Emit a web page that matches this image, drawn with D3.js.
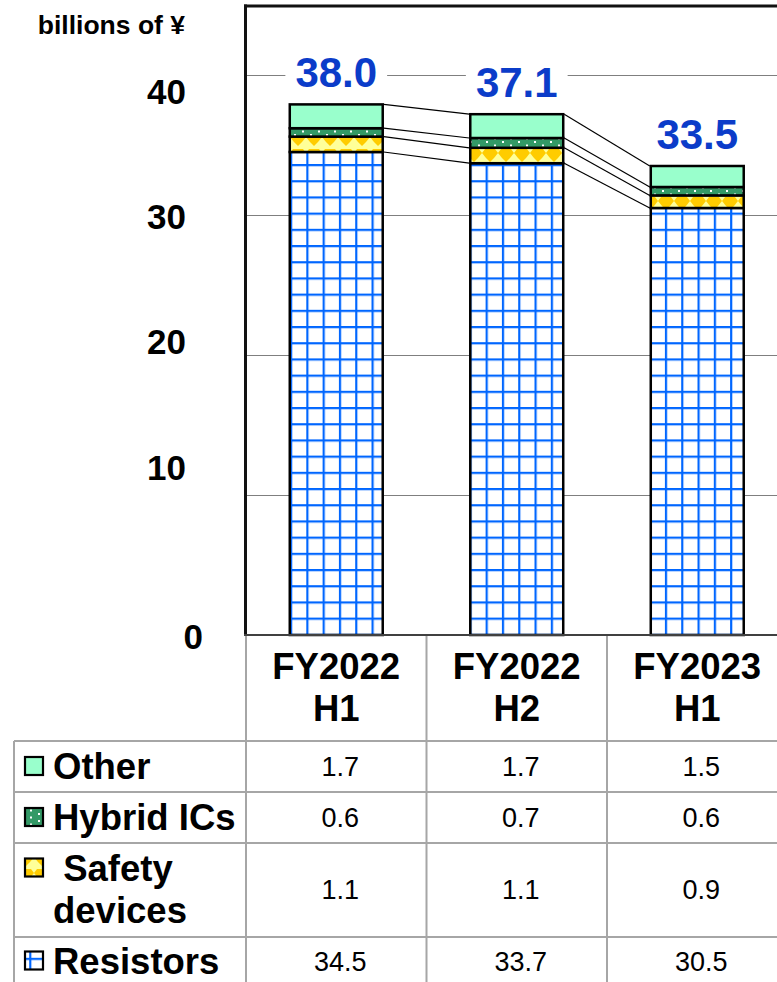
<!DOCTYPE html>
<html>
<head>
<meta charset="utf-8">
<script src="https://cdn.jsdelivr.net/npm/d3@7"></script>
<style>
  html, body { margin: 0; padding: 0; background: #fff; }
  svg { display: block; font-family: "Liberation Sans", Arial, sans-serif; }
</style>
</head>
<body>
<svg id="chart" width="777" height="982"></svg>
<script>
// ---------------- data ----------------
const categories = ["FY2022 H1", "FY2022 H2", "FY2023 H1"];
const seriesNames = ["Resistors", "Safety devices", "Hybrid ICs", "Other"];
const resistors = [34.5, 33.7, 30.5];
const safetyDevices = [1.1, 1.1, 0.9];
const hybridICs = [0.6, 0.7, 0.6];
const other = [1.7, 1.7, 1.5];
const totalLabels = ["38.0", "37.1", "33.5"];
const yTicks = [0, 10, 20, 30, 40];
const unitLabel = "billions of ¥";

// table rows, top to bottom
const tableRows = [
  { key: "Other", lines: ["Other"], values: other },
  { key: "Hybrid ICs", lines: ["Hybrid ICs"], values: hybridICs },
  { key: "Safety devices", lines: ["\u00a0Safety", "devices"], values: safetyDevices },
  { key: "Resistors", lines: ["Resistors"], values: resistors }
];

// ---------------- layout ----------------
const svg = d3.select("#chart");
const W = 777;
const plotLeft = 246, plotTop = 6, plotBottom = 635;
const FONT = "'Liberation Sans', Arial, sans-serif";

const x = d3.scaleBand().domain(categories).range([plotLeft, plotLeft + 541.5])
  .paddingInner(0.485).paddingOuter(0.2425);
const y = d3.scaleLinear().domain([0, 40]).range([plotBottom, 75]);
// tick label vertical placement (as typeset in the original)
const yLabelPos = d3.scaleLinear().domain([0, 10, 40]).range([636, 467, 91]);

const data = categories.map((c, i) => ({
  cat: c, "Resistors": resistors[i], "Safety devices": safetyDevices[i],
  "Hybrid ICs": hybridICs[i], "Other": other[i]
}));
const stacked = d3.stack().keys(seriesNames)(data);

// ---------------- patterns ----------------
const defs = svg.append("defs");
// Resistors: blue grid on white
const pR = defs.append("pattern").attr("id", "pat-Resistors")
  .attr("patternUnits", "userSpaceOnUse").attr("width", 16.3).attr("height", 16.2)
  .attr("x", 290).attr("y", 2);
pR.append("rect").attr("width", 16.3).attr("height", 16.2).attr("fill", "#fff");
pR.append("rect").attr("x", 0).attr("y", 0).attr("width", 2.2).attr("height", 16.2).attr("fill", "#0066ff");
pR.append("rect").attr("x", 0).attr("y", 0).attr("width", 16.3).attr("height", 2.2).attr("fill", "#0066ff");
// Safety devices: gold blobs on light yellow
const pS = defs.append("pattern").attr("id", "pat-Safety")
  .attr("patternUnits", "userSpaceOnUse").attr("width", 16).attr("height", 16).attr("x", 290).attr("y", 4);
pS.append("rect").attr("width", 16).attr("height", 16).attr("fill", "#ffff99");
pS.append("polygon").attr("points", "3,1 13,1 16,5 12,10 8,14 4,10 0,5").attr("fill", "#ffcc00");
// Hybrid ICs: white dots on green
const pH = defs.append("pattern").attr("id", "pat-Hybrid")
  .attr("patternUnits", "userSpaceOnUse").attr("width", 16).attr("height", 7).attr("x", 290).attr("y", 0);
pH.append("rect").attr("width", 16).attr("height", 7).attr("fill", "#339966");
pH.append("rect").attr("x", 4).attr("y", 1).attr("width", 2).attr("height", 2).attr("fill", "#fff");
pH.append("rect").attr("x", 12).attr("y", 4.5).attr("width", 2).attr("height", 2).attr("fill", "#fff");
const fills = {
  "Resistors": "url(#pat-Resistors)",
  "Safety devices": "url(#pat-Safety)",
  "Hybrid ICs": "url(#pat-Hybrid)",
  "Other": "#99ffcc"
};

// ---------------- gridlines ----------------
svg.append("g").selectAll("line").data(yTicks.filter(d => d > 0)).join("line")
  .attr("x1", plotLeft).attr("x2", W)
  .attr("y1", d => Math.round(y(d)) + 0.5).attr("y2", d => Math.round(y(d)) + 0.5)
  .attr("stroke", "#7f7f7f").attr("stroke-width", 1);

// ---------------- bars ----------------
const bars = svg.append("g");
stacked.forEach(layer => {
  bars.append("g").selectAll("rect").data(layer).join("rect")
    .attr("x", d => x(d.data.cat))
    .attr("width", x.bandwidth())
    .attr("y", d => y(d[1]))
    .attr("height", d => y(d[0]) - y(d[1]))
    .attr("fill", fills[layer.key])
    .attr("stroke", "#000").attr("stroke-width", 2.5);
});

// ---------------- connector lines ----------------
const conn = svg.append("g");
for (let i = 0; i < categories.length - 1; i++) {
  stacked.forEach(layer => {
    conn.append("line")
      .attr("x1", x(categories[i]) + x.bandwidth() + 1)
      .attr("y1", y(layer[i][1]))
      .attr("x2", x(categories[i + 1]) - 1)
      .attr("y2", y(layer[i + 1][1]))
      .attr("stroke", "#000").attr("stroke-width", 1.2);
  });
}

// ---------------- total labels ----------------
const totG = svg.append("g");
categories.forEach((c, i) => {
  const top = y(stacked[stacked.length - 1][i][1]);
  const g = totG.append("g");
  const t = g.append("text")
    .attr("x", x(c) + x.bandwidth() / 2)
    .attr("y", top - 17)
    .attr("text-anchor", "middle")
    .attr("font-family", FONT).attr("font-weight", "bold").attr("font-size", 42)
    .attr("fill", "#0b3cc9")
    .text(totalLabels[i]);
  const bb = t.node().getBBox();
  g.insert("rect", "text")
    .attr("x", bb.x - 10).attr("y", bb.y - 8)
    .attr("width", bb.width + 20).attr("height", bb.height + 12)
    .attr("fill", "#fff");
});

// ---------------- frame ----------------
svg.append("line").attr("x1", plotLeft - 2).attr("x2", W).attr("y1", plotTop).attr("y2", plotTop)
  .attr("stroke", "#111").attr("stroke-width", 3);
svg.append("line").attr("x1", plotLeft - 0.5).attr("x2", plotLeft - 0.5).attr("y1", plotTop - 1.5).attr("y2", plotBottom)
  .attr("stroke", "#111").attr("stroke-width", 3);

// ---------------- y tick labels ----------------
svg.append("text").attr("x", 185).attr("y", 34).attr("text-anchor", "end")
  .attr("font-family", FONT).attr("font-weight", "bold").attr("font-size", 26.5)
  .attr("fill", "#000").text(unitLabel);
svg.append("g").selectAll("text").data(yTicks).join("text")
  .attr("x", d => d === 0 ? 203 : 186)
  .attr("y", d => yLabelPos(d) + 12.5)
  .attr("text-anchor", "end")
  .attr("font-family", FONT).attr("font-weight", "bold").attr("font-size", 35)
  .attr("fill", "#000").text(d => d);

// ---------------- table ----------------
const tableLeft = 14;
const headerBottom = 741;
const rowBounds = [741, 792, 843, 937, 984];
const gridColor = "#a6a6a6";
const tbl = svg.append("g");
// horizontal rules
rowBounds.slice(0, 4).forEach(yy => {
  tbl.append("line").attr("x1", tableLeft).attr("x2", W).attr("y1", yy).attr("y2", yy)
    .attr("stroke", gridColor).attr("stroke-width", 2);
});
// vertical rules
tbl.append("line").attr("x1", tableLeft).attr("x2", tableLeft).attr("y1", headerBottom).attr("y2", 982)
  .attr("stroke", gridColor).attr("stroke-width", 2);
[plotLeft, plotLeft + x.step(), plotLeft + 2 * x.step()].forEach(xx => {
  tbl.append("line").attr("x1", xx).attr("x2", xx).attr("y1", plotBottom).attr("y2", 982)
    .attr("stroke", gridColor).attr("stroke-width", 2);
});
// baseline axis
svg.append("line").attr("x1", plotLeft - 2).attr("x2", W).attr("y1", plotBottom).attr("y2", plotBottom)
  .attr("stroke", "#404040").attr("stroke-width", 2);

// header category labels
categories.forEach(c => {
  const parts = c.split(" ");
  const cx = x(c) + x.bandwidth() / 2;
  parts.forEach((p, j) => {
    tbl.append("text").attr("x", cx).attr("y", 679 + j * 42)
      .attr("text-anchor", "middle")
      .attr("font-family", FONT).attr("font-weight", "bold").attr("font-size", 36.5)
      .attr("fill", "#000").text(p);
  });
});

// rows
tableRows.forEach((r, ri) => {
  const y0 = rowBounds[ri], y1 = rowBounds[ri + 1];
  const isTwo = r.lines.length > 1;
  const firstCenter = isTwo ? y0 + 25 : (y0 + y1) / 2 + (ri === 3 ? 0.5 : 0);
  // swatch
  tbl.append("rect").attr("x", 25).attr("y", firstCenter - 9.5).attr("width", 18).attr("height", 18)
    .attr("fill", fills[r.key]).attr("stroke", "#000").attr("stroke-width", 2.2);
  r.lines.forEach((ln, j) => {
    tbl.append("text").attr("x", 53).attr("y", firstCenter + 12.5 + j * 42)
      .attr("font-family", FONT).attr("font-weight", "bold").attr("font-size", 36.5)
      .attr("fill", "#000").text(ln);
  });
  const valCenter = isTwo ? (y0 + y1) / 2 - 1 : firstCenter;
  r.values.forEach((v, i) => {
    tbl.append("text").attr("x", x(categories[i]) + x.bandwidth() / 2 + 4).attr("y", valCenter + 9.5)
      .attr("text-anchor", "middle")
      .attr("font-family", FONT).attr("font-size", 27)
      .attr("fill", "#000").text(d3.format(".1f")(v));
  });
});
</script>
</body>
</html>
